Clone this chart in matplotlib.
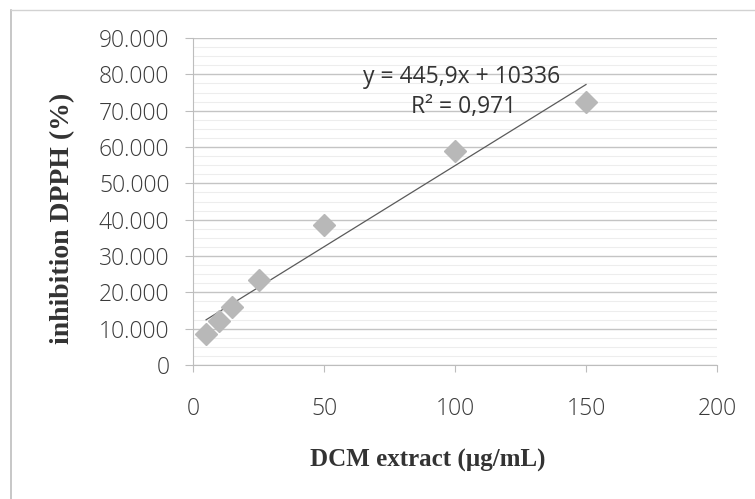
import numpy as np
import matplotlib.pyplot as plt
from matplotlib.lines import Line2D

# DCM extract concentration (ug/mL) vs DPPH inhibition (%)
conc = [5, 10, 15, 25, 50, 100, 150]
inhibition = [8.5, 12.0, 16.0, 23.5, 38.5, 59.0, 72.5]
y_ticks = [0, 10, 20, 30, 40, 50, 60, 70, 80, 90]
y_tick_labels = ['0', '10.000', '20.000', '30.000', '40.000', '50.000',
                 '60.000', '70.000', '80.000', '90.000']
x_ticks = [0, 50, 100, 150, 200]
eq_text = 'y = 445,9x + 10336'
r2_text = 'R² = 0,971'

W, H = 755, 499
fig = plt.figure(figsize=(7.55, 4.99), dpi=100)
ax = fig.add_axes([193 / W, 1 - 365 / H, (717 - 193) / W, (365 - 38) / H])

# outer chart border (only left and top edges visible in the scan)
fig.add_artist(Line2D([11 / W, 11 / W], [0, 1 - 10 / H], transform=fig.transFigure,
                      color='#bdbdbd', lw=1.2))
fig.add_artist(Line2D([11 / W, 1], [1 - 10 / H, 1 - 10 / H], transform=fig.transFigure,
                      color='#d2d2d2', lw=1.0))

ax.set_xlim(0, 200)
ax.set_ylim(0, 90)

# gridlines
ax.set_yticks(y_ticks)
ax.set_yticks(np.arange(0, 90, 2.5), minor=True)
ax.grid(axis='y', which='major', color='#c4c4c4', lw=1.0)
ax.grid(axis='y', which='minor', color='#ededed', lw=0.8)
ax.set_axisbelow(True)

# trendline
coef = np.polyfit(conc, inhibition, 1)
xt = np.array([conc[0], conc[-1]])
ax.plot(xt, np.polyval(coef, xt), color='#5a5a5a', lw=0.9, zorder=3)

ax.plot(conc, inhibition, linestyle='none', marker='D', markersize=11,
        color='#b8b8b8', markeredgecolor='#b8b8b8', zorder=4)

for s in ['top', 'right']:
    ax.spines[s].set_visible(False)
ax.spines['left'].set_color('#bdbdbd')
ax.spines['bottom'].set_color('#bdbdbd')

ax.set_xticks(x_ticks)
ax.set_yticklabels(y_tick_labels)
ax.tick_params(axis='x', which='major', length=5, color='#bdbdbd', pad=18,
               labelsize=16.5, labelcolor='#3a3a3a')
ax.tick_params(axis='y', which='major', length=6, color='#bdbdbd', pad=11,
               labelsize=16.5, labelcolor='#3a3a3a')
ax.tick_params(axis='y', which='minor', length=0)
for lab in ax.get_xticklabels() + ax.get_yticklabels():
    lab.set_fontfamily('Open Sans')
    lab.set_fontweight('light')

# trendline equation, placed in pixel coords from the top-left
fig.text(462 / W, 1 - 77 / H, eq_text, ha='center', va='center',
         fontsize=16.5, family='Open Sans', color='#333333')
fig.text(464 / W, 1 - 107 / H, r2_text, ha='center', va='center',
         fontsize=16.5, family='Open Sans', color='#333333')

fig.text(428 / W, 1 - 460 / H, 'DCM extract (µg/mL)', ha='center', va='center',
         fontsize=18, fontweight='bold', family='Liberation Serif', color='#333333')
fig.text(63 / W, 1 - 218 / H, 'inhibition DPPH (%)', ha='center', va='center',
         rotation=90, fontsize=20, fontweight='bold', family='Liberation Serif',
         color='#333333')

fig.savefig('out.png', dpi=100)
